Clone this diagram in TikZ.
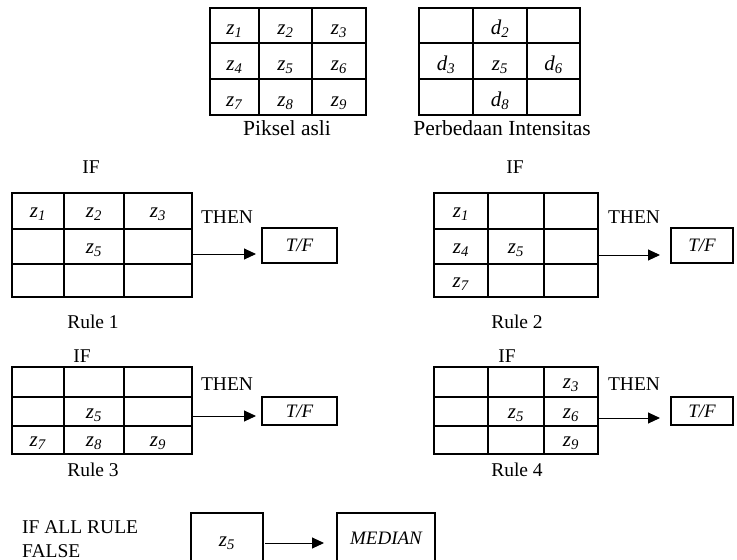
\documentclass[tikz,border=0pt]{standalone}
\usepackage{fontspec}
\setmainfont{Liberation Serif}
\usetikzlibrary{arrows.meta}
\newcommand{\zsub}[1]{\textit{z}\textsubscript{\textit{#1}}}
\newcommand{\dsub}[1]{\textit{d}\textsubscript{\textit{#1}}}
\tikzset{
  gridline/.style={line width=1.2pt, black},
  gridbox/.style={draw, gridline, inner sep=0pt, outer sep=0pt},
  cell/.style={inner sep=0pt, anchor=base, yshift=-6.5pt, font=\fontsize{21}{24}\selectfont},
  topcell/.style={cell, yshift=-2.5pt},
  lbl/.style={inner sep=0pt, anchor=base, font=\fontsize{19.5}{23}\selectfont},
  biglbl/.style={lbl, font=\fontsize{21.5}{25}\selectfont},
  tfbox/.style={draw, line width=1.2pt, inner sep=0pt, outer sep=0pt, font=\fontsize{19}{22}\selectfont\itshape},
  arr/.style={line width=1pt, -{Triangle[length=12pt,width=11pt]}}
}
\newcommand{\tgrid}[9]{%
  \node[gridbox, anchor=north west, minimum width={#5pt-#2pt}, minimum height={#9pt-#6pt}] (#1) at (#2,#6) {};
  \draw[gridline] (#3,#6) -- (#3,#9) (#4,#6) -- (#4,#9) (#2,#7) -- (#5,#7) (#2,#8) -- (#5,#8);
  \foreach \c/\xa/\xb in {1/#2/#3,2/#3/#4,3/#4/#5}{%
    \foreach \r/\ya/\yb in {1/#6/#7,2/#7/#8,3/#8/#9}{%
      \coordinate (#1-\r\c) at ({(\xa+\xb)/2},{(\ya+\yb)/2});
    }
  }
}
\begin{document}
\begin{tikzpicture}[x=1pt,y=-1pt]
\clip (0,0) rectangle (737,560);
\useasboundingbox (0,0) rectangle (737,560);

% top grids
\tgrid{P}{210}{259}{312}{366}{8}{43}{79}{115}
\node[topcell] (p1) at (P-11) {\zsub{1}};
\node[topcell] (p2) at (P-12) {\zsub{2}};
\node[topcell] (p3) at (P-13) {\zsub{3}};
\node[topcell] (p4) at (P-21) {\zsub{4}};
\node[topcell] (p5) at (P-22) {\zsub{5}};
\node[topcell] (p6) at (P-23) {\zsub{6}};
\node[topcell] (p7) at (P-31) {\zsub{7}};
\node[topcell] (p8) at (P-32) {\zsub{8}};
\node[topcell] (p9) at (P-33) {\zsub{9}};
\node[biglbl] (plbl) at (287,135) {Piksel asli};

\tgrid{D}{419}{473}{527}{580}{8}{43}{79}{115}
\node[topcell] (d2) at (D-12) {\dsub{2}};
\node[topcell] (d3) at (D-21) {\dsub{3}};
\node[topcell] (d5) at (D-22) {\zsub{5}};
\node[topcell] (d6) at (D-23) {\dsub{6}};
\node[topcell] (d8) at (D-32) {\dsub{8}};
\node[biglbl] (dlbl) at (502,135) {Perbedaan Intensitas};

% Rule 1
\node[lbl] (if1) at (91,173) {IF};
\tgrid{A}{12}{64}{124}{192}{193}{229}{264}{297}
\node[cell] (a1) at (A-11) {\zsub{1}};
\node[cell] (a2) at (A-12) {\zsub{2}};
\node[cell] (a3) at (A-13) {\zsub{3}};
\node[cell] (a5) at (A-22) {\zsub{5}};
\node[lbl] (then1) at (227,223) {THEN};
\node[tfbox, minimum width=75pt, minimum height=35pt] (tf1) at (299.5,245.5) {T/F};
\coordinate (e1) at (256,254);
\draw[arr] (A.east |- e1) -- (e1);
\node[lbl] (rule1) at (93,328) {Rule 1};

% Rule 2
\node[lbl] (if2) at (515,173) {IF};
\tgrid{B}{434}{488}{544}{598}{193}{229}{264}{297}
\node[cell] (b1) at (B-11) {\zsub{1}};
\node[cell] (b4) at (B-21) {\zsub{4}};
\node[cell] (b5) at (B-22) {\zsub{5}};
\node[cell] (b7) at (B-31) {\zsub{7}};
\node[lbl] (then2) at (634,223) {THEN};
\node[tfbox, minimum width=62pt, minimum height=35pt] (tf2) at (702,245.5) {T/F};
\coordinate (e2) at (660,255);
\draw[arr] (B.east |- e2) -- (e2);
\node[lbl] (rule2) at (517,328) {Rule 2};

% Rule 3
\node[lbl] (if3) at (82,362) {IF};
\tgrid{C}{12}{64}{124}{192}{367}{397}{426}{454}
\node[cell] (c5) at (C-22) {\zsub{5}};
\node[cell] (c7) at (C-31) {\zsub{7}};
\node[cell] (c8) at (C-32) {\zsub{8}};
\node[cell] (c9) at (C-33) {\zsub{9}};
\node[lbl] (then3) at (227,390) {THEN};
\node[tfbox, minimum width=75pt, minimum height=28pt] (tf3) at (299.5,411) {T/F};
\coordinate (e3) at (256,416);
\draw[arr] (C.east |- e3) -- (e3);
\node[lbl] (rule3) at (93,476) {Rule 3};

% Rule 4
\node[lbl] (if4) at (507,362) {IF};
\tgrid{E}{434}{488}{544}{598}{367}{397}{426}{454}
\node[cell] (f3) at (E-13) {\zsub{3}};
\node[cell] (f5) at (E-22) {\zsub{5}};
\node[cell] (f6) at (E-23) {\zsub{6}};
\node[cell] (f9) at (E-33) {\zsub{9}};
\node[lbl] (then4) at (634,390) {THEN};
\node[tfbox, minimum width=62pt, minimum height=28pt] (tf4) at (702,411) {T/F};
\coordinate (e4) at (660,418);
\draw[arr] (E.east |- e4) -- (e4);
\node[lbl] (rule4) at (517,476) {Rule 4};

% final
\node[lbl, anchor=base west] (allr) at (22,533) {IF ALL RULE};
\node[lbl, anchor=base west] (fls) at (22,557) {FALSE};
\node[gridbox, anchor=north west, minimum width=72pt, minimum height=70pt] (zb) at (191,513) {};
\node[cell] (zbt) at (227,540) {\zsub{5}};
\node[gridbox, anchor=north west, minimum width=98pt, minimum height=70pt] (mb) at (337,513) {};
\node[lbl, font=\fontsize{19}{22}\selectfont\itshape] (mbt) at (386,544) {MEDIAN};
\coordinate (e5) at (324,543);
\draw[arr] ([xshift=2pt]zb.east |- e5) -- (e5);
\end{tikzpicture}
\end{document}
